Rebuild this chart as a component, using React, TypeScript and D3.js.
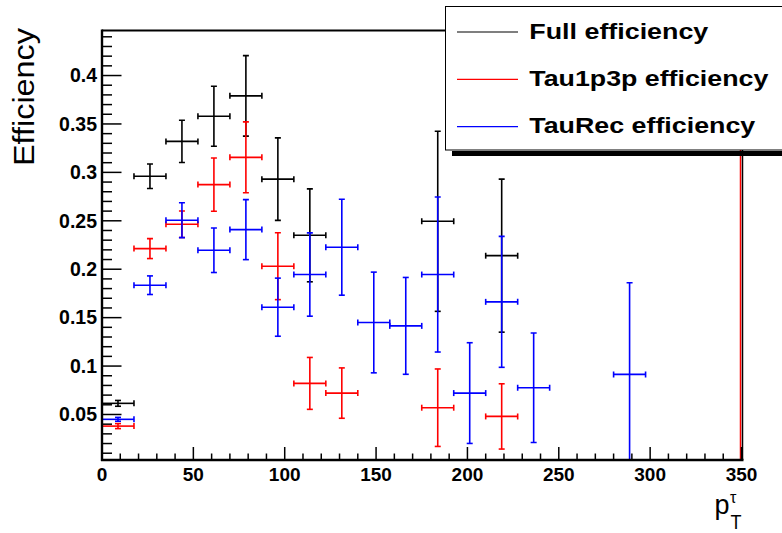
import React from "react";
import * as d3 from "d3";

// ---- data ----
const binWidth = 17.5;
const xTicks = [0, 50, 100, 150, 200, 250, 300, 350];
const yTicks = [0.05, 0.1, 0.15, 0.2, 0.25, 0.3, 0.35, 0.4];
const yTickLabels = ["0.05", "0.1", "0.15", "0.2", "0.25", "0.3", "0.35", "0.4"];

const fullX = [8.75, 26.25, 43.75, 61.25, 78.75, 96.25, 113.75, 183.75, 218.75];
const fullY = [0.0615, 0.296, 0.332, 0.358, 0.379, 0.293, 0.235, 0.2495, 0.214];
const fullErr = [0.003, 0.0127, 0.0218, 0.031, 0.0416, 0.0426, 0.048, 0.093, 0.079];

const tauX = [8.75, 26.25, 43.75, 61.25, 78.75, 96.25, 113.75, 131.25, 183.75, 218.75];
const tauY = [0.038, 0.2213, 0.2464, 0.2874, 0.3155, 0.2031, 0.0821, 0.0721, 0.057, 0.048];
const tauErr = [0.0026, 0.0103, 0.0137, 0.0275, 0.0366, 0.0345, 0.0268, 0.026, 0.04, 0.0337];

const recX = [8.75, 26.25, 43.75, 61.25, 78.75, 96.25, 113.75, 131.25, 148.75, 166.25, 183.75, 201.25, 218.75, 236.25, 288.75];
const recY = [0.045, 0.1835, 0.2506, 0.2196, 0.2409, 0.1608, 0.1945, 0.2227, 0.145, 0.1415, 0.1945, 0.0721, 0.1663, 0.0776, 0.0914];
const recErr = [0.002, 0.0096, 0.018, 0.023, 0.031, 0.03, 0.043, 0.0495, 0.052, 0.05, 0.08, 0.052, 0.0676, 0.0565, 0.0946];

const legendLabels = ["Full efficiency", "Tau1p3p efficiency", "TauRec efficiency"];
const legendWidths = [179, 239, 226];
const seriesColors = ["#000000", "#ff0000", "#0000ff"];

// ---- layout ----
const W = 782, H = 533;
const L = 102, R = 741.5, T = 30.5, B = 460;

export default function App() {
  const x = d3.scaleLinear().domain([0, 350]).range([L, R]);
  const y = d3.scaleLinear().domain([0.003, 0.4465]).range([B, T]);

  const series = [
    { xs: fullX, ys: fullY, es: fullErr, color: seriesColors[0] },
    { xs: tauX, ys: tauY, es: tauErr, color: seriesColors[1] },
    { xs: recX, ys: recY, es: recErr, color: seriesColors[2] },
  ];

  const xMinor = d3.range(0, 351, 10);
  const yMinor = d3.range(0.01, 0.4465, 0.01);
  const cap = 3;

  return (
    <svg width={W} height={H} style={{ position: "absolute", left: 0, top: 0, background: "#fff" }}
      fontFamily="'Liberation Sans', Arial, sans-serif">
      <defs>
        <clipPath id="plot">
          <rect x={L} y={T} width={R - L} height={B - T} />
        </clipPath>
      </defs>
      <rect x={0} y={0} width={W} height={H} fill="#fff" />

      {/* red vertical line at x = 350 */}
      <line x1={x(350) - 1} x2={x(350) - 1} y1={T} y2={B} stroke="#ff0000" strokeWidth={1.5} />
      {/* frame */}
      <line x1={L} x2={R + 1} y1={T} y2={T} stroke="#000" strokeWidth={2} />
      <line x1={R + 1} x2={R + 1} y1={T} y2={B} stroke="#000" strokeWidth={1.5} />

      {/* series */}
      <g clipPath="url(#plot)">
        {series.map((s, si) => (
          <g key={si} stroke={s.color} strokeWidth={1.6} fill="none">
            {s.xs.map((xv, i) => {
              const cx = x(xv);
              const cy = y(s.ys[i]);
              const x0 = x(xv - binWidth / 2);
              const x1 = x(xv + binWidth / 2);
              const yTop = y(s.ys[i] + s.es[i]);
              const yBot = y(s.ys[i] - s.es[i]);
              return (
                <g key={i}>
                  <line x1={x0} x2={x1} y1={cy} y2={cy} />
                  <line x1={x0} x2={x0} y1={cy - cap} y2={cy + cap} />
                  <line x1={x1} x2={x1} y1={cy - cap} y2={cy + cap} />
                  <line x1={cx} x2={cx} y1={yTop} y2={yBot} />
                  <line x1={cx - cap} x2={cx + cap} y1={yTop} y2={yTop} />
                  <line x1={cx - cap} x2={cx + cap} y1={yBot} y2={yBot} />
                </g>
              );
            })}
          </g>
        ))}
      </g>

      {/* x axis */}
      <line x1={L - 1} x2={R + 2} y1={B} y2={B} stroke="#000" strokeWidth={2.4} />
      {xMinor.map((v) => (
        <line key={"xm" + v} x1={x(v)} x2={x(v)} y1={B} y2={B - (v % 50 === 0 ? 13 : 6.5)} stroke="#000" strokeWidth={1.5} />
      ))}
      {xTicks.map((v) => (
        <text key={"xt" + v} x={x(v)} y={480.5} textAnchor="middle" fontSize={19} fontWeight="bold" fill="#000">{v}</text>
      ))}

      {/* y axis */}
      <line x1={L} x2={L} y1={T - 1} y2={B + 1} stroke="#000" strokeWidth={2.4} />
      {yMinor.map((v, i) => {
        const major = Math.abs(Math.round(v * 100) % 5) === 0;
        return <line key={"ym" + i} x1={L} x2={L + (major ? 19.5 : 10)} y1={y(v)} y2={y(v)} stroke="#000" strokeWidth={1.5} />;
      })}
      {yTicks.map((v, i) => (
        <text key={"yt" + v} x={97} y={y(v) + 6.8} textAnchor="end" fontSize={19.5} fontWeight="bold" fill="#000">{yTickLabels[i]}</text>
      ))}

      {/* axis titles */}
      <text transform="translate(33.5,28) rotate(-90)" textAnchor="end" fontSize={29} textLength={138}
        lengthAdjust="spacingAndGlyphs" fill="#000">Efficiency</text>
      <text x={714.5} y={514} fontSize={27} fill="#000">p</text>
      <text x={730} y={503} fontSize={16} fill="#000">τ</text>
      <text x={730.5} y={529} fontSize={21} fill="#000" textLength={11} lengthAdjust="spacingAndGlyphs">T</text>

      {/* legend */}
      <rect x={452} y={151} width={340} height={5} fill="#000" />
      <rect x={445.5} y={6.5} width={345} height={143.5} fill="#fff" stroke="#000" strokeWidth={1} />
      {legendLabels.map((lab, i) => {
        const ly = 32 + i * 47.3;
        return (
          <g key={lab}>
            <line x1={457} x2={518} y1={ly} y2={ly} stroke={seriesColors[i]} strokeWidth={1.2} />
            <text x={529.3} y={ly + 6.5} fontSize={22} fontWeight="bold" fill="#000" textLength={legendWidths[i]}
              lengthAdjust="spacingAndGlyphs">{lab}</text>
          </g>
        );
      })}
    </svg>
  );
}
